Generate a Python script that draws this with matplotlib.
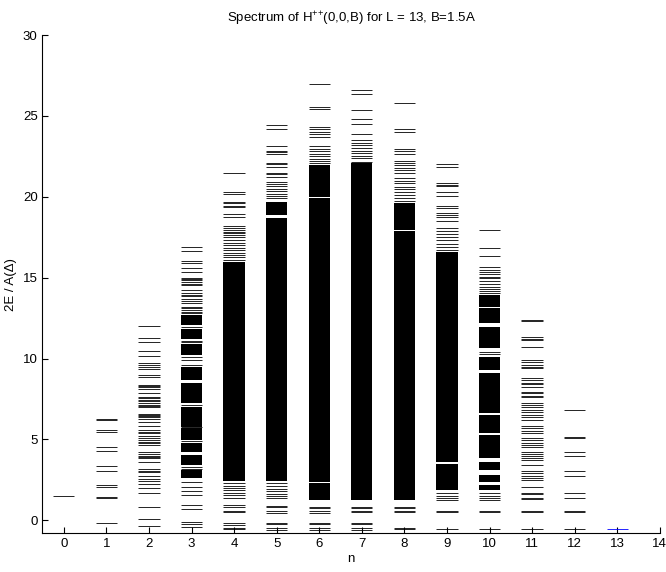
import matplotlib
matplotlib.use("Agg")
import matplotlib.pyplot as plt

plt.rcParams['font.family'] = ['Liberation Sans', 'DejaVu Sans']
plt.rcParams['mathtext.default'] = 'regular'

# energy levels, one list per particle number n
levels = {
    0: [1.5],
    1: [6.27, 6.22, 5.6, 5.47, 4.55, 4.28, 3.34, 3.05, 2.21, 2.09, 1.43, 1.39, -0.16],
    2: [11.99, 11.27, 11.0, 10.45, 10.18, 9.71, 9.59, 9.47, 9.34, 8.96, 8.83,
        8.36, 8.3, 8.22, 8.14, 7.85, 7.62, 7.55, 7.43, 7.35, 7.25, 7.15, 7.08,
        7.03, 6.6, 6.52, 6.45, 6.37, 6.29, 6.07, 5.84, 5.57, 5.47, 5.38, 5.22,
        5.06, 4.95, 4.85, 4.75, 4.65, 4.2, 4.1, 4.0, 3.93, 3.87, 3.63, 3.16,
        3.08, 2.97, 2.77, 2.56, 2.44, 2.27, 2.01, 1.68, 0.84, 0.1, -0.35],
    3: [16.88, 16.66, 16.0, 15.9, 15.62, 15.32, 15.0, 14.93, 14.86, 14.72,
        14.62, 14.55, 14.25, 14.04, 13.95, 13.87, 13.67, 13.55, 13.42, 13.2,
        13.1, 13.0, 12.9, 12.8, 11.95, 11.1, 11.0, 10.1, 9.9, 9.6, 7.1, 5.75,
        4.9, 3.3, 3.2, 2.34, 2.09, 1.84, 1.58, 0.96, 0.69, -0.13, -0.22, -0.44],
    4: [21.5, 20.32, 20.18, 19.7, 19.6, 19.45, 19.36, 18.94, 18.78, 18.2, 18.1,
        17.95, 17.85, 17.75, 17.65, 17.5, 17.34, 17.13, 17.0, 16.85, 16.7,
        16.55, 16.4, 16.25, 16.1, 2.3, 2.15, 2.0, 1.85, 1.7, 1.55, 1.37, 0.92,
        0.82, 0.58, 0.54, -0.17, -0.3, -0.45, -0.54],
    5: [24.44, 24.18, 23.15, 22.86, 22.75, 22.65, 22.11, 22.0, 21.87, 21.5,
        21.38, 21.25, 20.94, 20.8, 20.65, 20.5, 20.35, 20.2, 20.05, 19.9, 2.3,
        2.1, 1.95, 1.8, 1.65, 1.5, 1.35, 0.9, 0.8, 0.6, 0.48, -0.17, -0.25,
        -0.5, -0.59],
    6: [26.98, 25.57, 25.41, 24.34, 24.18, 24.03, 23.9, 23.72, 23.15, 22.94,
        22.8, 22.65, 22.5, 22.35, 22.2, 22.08, 0.82, 0.75, 0.55, 0.48, -0.17,
        -0.25, -0.5, -0.59],
    7: [26.6, 26.36, 25.37, 24.8, 24.5, 23.87, 23.5, 23.35, 23.2, 23.0, 22.85,
        22.7, 22.55, 22.4, 22.18, 0.85, 0.78, 0.57, 0.54, -0.17, -0.25, -0.5,
        -0.57],
    8: [25.82, 24.18, 24.03, 22.94, 22.8, 22.65, 22.24, 22.1, 21.95, 21.8,
        21.65, 21.5, 21.15, 21.0, 20.85, 20.63, 20.47, 20.3, 20.1, 19.95, 19.77,
        0.85, 0.78, 0.6, 0.54, -0.45, -0.52],
    9: [22.0, 21.87, 20.84, 20.74, 20.67, 20.32, 20.06, 19.4, 19.3, 19.02,
        18.9, 18.78, 18.53, 18.06, 17.9, 17.7, 17.5, 17.3, 17.1, 16.9, 16.72,
        1.68, 1.5, 1.35, 1.27, 0.56, 0.5, -0.53],
    10: [17.95, 16.82, 16.35, 15.65, 15.5, 15.38, 15.2, 15.05, 14.97, 14.8,
         14.6, 14.45, 14.3, 14.15, 14.04, 10.4, 10.3, 1.68, 1.5, 1.35, 1.27,
         0.56, 0.5, -0.53],
    11: [12.39, 12.35, 11.36, 11.2, 11.16, 10.74, 9.92, 9.8, 9.6, 9.5, 9.4,
         8.79, 8.65, 8.5, 8.4, 8.27, 7.96, 7.85, 7.7, 7.61, 7.24, 7.1, 7.0,
         6.85, 6.72, 6.52, 6.4, 6.21, 5.84, 5.7, 5.55, 5.39, 5.08, 4.95, 4.8,
         4.65, 4.56, 4.25, 4.1, 3.95, 3.84, 3.74, 3.43, 3.02, 2.9, 2.75, 2.6,
         2.5, 2.05, 1.68, 1.6, 1.41, 1.3, 0.56, 0.5, -0.53],
    12: [6.83, 5.14, 5.1, 4.25, 3.99, 3.02, 2.71, 1.68, 1.41, 0.56, 0.52, -0.53],
    13: [-0.53],
}

# ranges where the levels are too dense to tell apart (solid black)
bands = {
    3: [(12.05, 12.7), (11.2, 11.8), (10.2, 10.9), (8.65, 9.45), (7.25, 8.5),
        (5.8, 7.0), (4.95, 5.7), (4.2, 4.8), (3.4, 4.05), (2.6, 3.12)],
    4: [(2.45, 15.95)],
    5: [(18.88, 19.7), (2.45, 18.68)],
    6: [(20.0, 21.97), (2.4, 19.9), (1.27, 2.3)],
    7: [(19.7, 22.08), (1.27, 19.65)],
    8: [(17.95, 19.6), (1.27, 17.9)],
    9: [(5.3, 16.6), (3.6, 5.25), (1.88, 3.5)],
    10: [(13.2, 13.94), (12.2, 13.1), (10.64, 11.98), (9.3, 10.12),
         (6.63, 9.13), (5.39, 6.52), (3.84, 5.28), (3.12, 3.63), (2.4, 2.81),
         (1.88, 2.19)],
}

half = 0.25

fig = plt.figure(figsize=(6.66, 5.72), dpi=100)
ax = fig.add_axes([0.0638, 0.0677, 0.927, 0.8711])

for n, vals in levels.items():
    col = 'b' if n == 13 else 'k'
    ax.hlines(vals, n - half, n + half, colors=col, linewidth=0.6)

for n, spans in bands.items():
    for lo, hi in spans:
        ax.bar(n, hi - lo, bottom=lo, width=2 * half, color='k', linewidth=0)

ax.set_xlim(-0.5, 14)
ax.set_ylim(-0.8, 30)
ax.set_xticks(range(0, 15))
ax.set_yticks([0, 5, 10, 15, 20, 25, 30])
ax.spines['top'].set_visible(False)
ax.spines['right'].set_visible(False)
ax.tick_params(direction='in', length=4, width=0.8, labelsize=9.5)
ax.set_xlabel('n', fontsize=9.5, labelpad=2)
ax.set_ylabel('2E / A(\u0394)', fontsize=9.5)
ax.set_title(r'Spectrum of H$^{{+}{+}}$(0,0,B) for L = 13, B=1.5A', fontsize=9.5, pad=9)

plt.savefig('out.png', dpi=100)
